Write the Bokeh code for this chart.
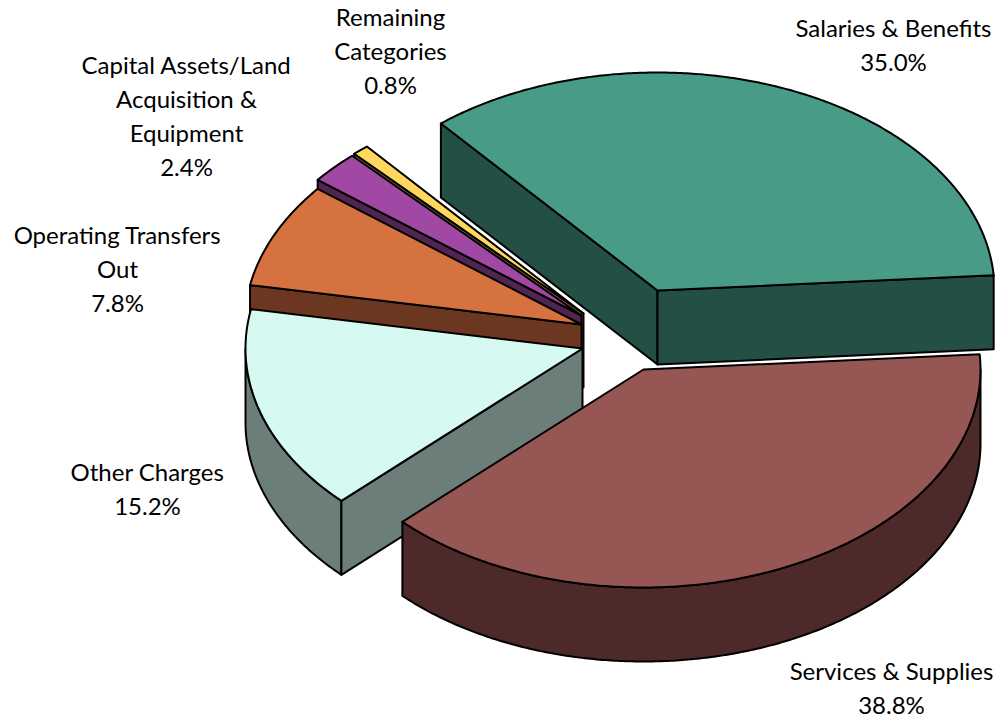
import math
from bokeh.plotting import figure
from bokeh.models import Range1d
from bokeh.core.properties import value
from bokeh.embed import file_html
from bokeh.resources import INLINE

# ---- chart values ----
categories = ["Salaries & Benefits", "Services & Supplies", "Other Charges",
              "Operating Transfers Out", "Capital Assets/Land Acquisition & Equipment",
              "Remaining Categories"]
shares = [35.0, 38.8, 15.2, 7.8, 2.4, 0.8]
label_lines = [["Salaries & Benefits"], ["Services & Supplies"], ["Other Charges"],
               ["Operating Transfers", "Out"], ["Capital Assets/Land", "Acquisition &", "Equipment"],
               ["Remaining", "Categories"]]

# ---- styling / layout ----
top_colors = ["#489C87", "#965654", "#D6F9F2", "#D67140", "#A048A3", "#FFD75F"]
wall_colors = ["#244F44", "#4D2A29", "#6C7E79", "#6B3720", "#502552", "#806B30"]
apex_x = [657, 643, 582, 581, 581, 583]
apex_y = [290, 369, 348, 324, 315, 313]
label_x = [893, 891, 147, 117, 186, 390]
label_y = [27, 670, 471, 234, 64, 16]
draw_order = [0, 5, 4, 3, 2, 1]
RX, RY, DEPTH = 337, 218, 74
START_DEG = -40
LINE_H = 34
W, H = 997, 719

p = figure(width=W, height=H, output_backend="svg", toolbar_location=None,
           x_range=Range1d(0, W), y_range=Range1d(H, 0),
           min_border=0, outline_line_color=None, background_fill_color="white")
p.xaxis.visible = False
p.yaxis.visible = False
p.grid.visible = False


def rim(cx, cy, a, b, drop=0):
    n = max(2, int(abs(b - a)) * 2)
    ts = [math.radians(a + (b - a) * i / n) for i in range(n + 1)]
    return [cx + RX * math.sin(t) for t in ts], [cy - RY * math.cos(t) + drop for t in ts]


def face(xs, ys, color):
    p.patch(xs, ys, fill_color=color, line_color="black", line_width=2, line_join="round")


angles = [START_DEG]
for s in shares:
    angles.append(angles[-1] + s * 3.6)

for i in draw_order:
    a, b = angles[i], angles[i + 1]
    cx, cy = apex_x[i], apex_y[i]
    mid = math.radians((a + b) / 2)
    mx, my = RX * math.sin(mid), -RY * math.cos(mid)
    # outer rim wall, the front half only
    ra, rb = max(a, 90), min(b, 270)
    if rb > ra:
        xs, ys = rim(cx, cy, ra, rb)
        xb, yb = rim(cx, cy, ra, rb, DEPTH)
        face(xs + xb[::-1], ys + yb[::-1], wall_colors[i])
    # cut walls that face the viewer
    for t in (a, b):
        r = math.radians(t)
        ex, ey = RX * math.sin(r), -RY * math.cos(r)
        nx, ny = -ey, ex
        if nx * mx + ny * my > 0:
            nx, ny = -nx, -ny
        if ny > 0:
            face([cx, cx + ex, cx + ex, cx], [cy, cy + ey, cy + ey + DEPTH, cy + DEPTH], wall_colors[i])
    # top
    xs, ys = rim(cx, cy, a, b)
    face([cx] + xs, [cy] + ys, top_colors[i])

for i, lines in enumerate(label_lines):
    rows = lines + [f"{shares[i]:.1f}%"]
    p.text([label_x[i]] * len(rows), [label_y[i] + LINE_H * k for k in range(len(rows))], text=rows,
           text_font=value("Lato"), text_font_size="24px", text_color="black",
           text_align="center", text_baseline="middle")

open("out.html", "w").write(file_html(p, INLINE))
